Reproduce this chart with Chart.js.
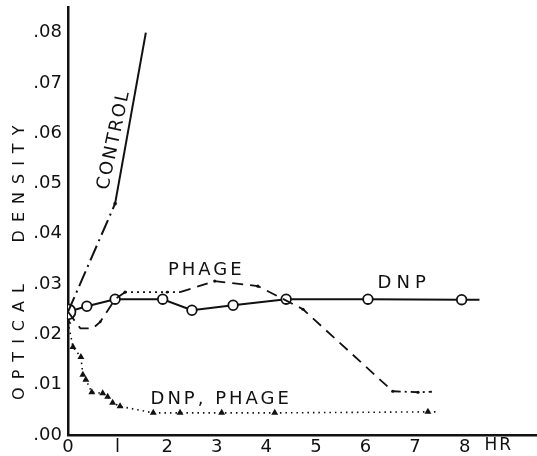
<!DOCTYPE html>
<html lang="en">
<head>
    <script src="https://cdn.jsdelivr.net/npm/chart.js@4/dist/chart.umd.min.js"></script>
    <style>
        html, body { margin: 0; padding: 0; background: #fff; }
        #canvas-container { position: relative; width: 537px; height: 456px; }
    </style>
</head>
<body>

<div id="canvas-container">
    <canvas id="od-chart"></canvas>
</div>

<script>
    // values (x = hours, y = optical density)
    const controlX = [0, 0.95, 1.57];
    const controlY = [0.0245, 0.046, 0.080];

    const dnpX = [0, 0.38, 0.95, 1.91, 2.5, 3.33, 4.4, 6.05, 7.94, 8.3];
    const dnpY = [0.0245, 0.0256, 0.027, 0.027, 0.0248, 0.0258, 0.027, 0.027, 0.0269, 0.0269];

    const phageX = [0, 0.25, 0.5, 0.65, 0.95, 1.15, 2.0, 2.26, 2.96, 3.83, 4.27, 4.74, 6.55, 7.06, 7.34];
    const phageY = [0.0245, 0.0212, 0.0212, 0.0225, 0.027, 0.0284, 0.0284, 0.0284, 0.0306, 0.0296, 0.0274, 0.025, 0.0087, 0.0085, 0.0086];

    const dnpPhageX = [0, 0.1, 0.26, 0.3, 0.36, 0.48, 0.7, 0.8, 0.9, 1.05, 1.72, 2.26, 3.1, 4.17, 7.26, 7.46];
    const dnpPhageY = [0.0225, 0.0175, 0.0155, 0.012, 0.011, 0.0085, 0.0083, 0.0076, 0.0064, 0.0057, 0.0044, 0.0044, 0.0044, 0.0044, 0.0046, 0.0046];

    const yTicks = [0, 0.01, 0.02, 0.03, 0.04, 0.05, 0.06, 0.07, 0.08];
    const xTicks = [0, 1, 2, 3, 4, 5, 6, 7, 8];

    const pts = (xs, ys) => xs.map((x, i) => ({x: x, y: ys[i]}));

    const FONT = "'DejaVu Sans', sans-serif";

    // curve labels and axis title drawn on the canvas
    const labelsPlugin = {
        id: "curveLabels",
        afterDatasetsDraw(chart) {
            const ctx = chart.ctx;
            const xs = chart.scales.x, ys = chart.scales.y;
            ctx.save();
            ctx.fillStyle = "#111";
            ctx.textAlign = "center";
            ctx.textBaseline = "middle";

            function put(text, x, y, angle, size, spacing) {
                ctx.save();
                ctx.font = size + "px " + FONT;
                ctx.letterSpacing = spacing + "px";
                ctx.translate(xs.getPixelForValue(x) + spacing / 2, ys.getPixelForValue(y));
                ctx.rotate(angle || 0);
                ctx.fillText(text, 0, 0);
                ctx.restore();
            }
            put("CONTROL", 0.91, 0.0587, -78 * Math.PI / 180, 18, 2);
            put("PHAGE", 2.76, 0.0328, 0, 18, 3);
            put("DNP", 6.73, 0.0302, 0, 18, 5);
            put("DNP, PHAGE", 3.06, 0.0070, 0, 18, 3);
            put("HR", 8.67, -0.0021, 0, 17, 2);

            // y axis title
            ctx.font = "16px " + FONT;
            ctx.letterSpacing = "8px";
            [["OPTICAL", 334], ["DENSITY", 176]].forEach(([word, cy]) => {
                ctx.save();
                ctx.translate(20, cy + 4);
                ctx.rotate(-Math.PI / 2);
                ctx.fillText(word, 0, 0);
                ctx.restore();
            });
            ctx.restore();
        }
    };

    new Chart(document.getElementById("od-chart"), {
        type: "scatter",
        data: {
            datasets: [
                {
                    label: "CONTROL",
                    data: pts(controlX, controlY),
                    showLine: true,
                    borderColor: "#111",
                    borderWidth: 2,
                    pointRadius: [0, 1.8, 0],
                    pointBackgroundColor: "#111",
                    pointBorderWidth: 0,
                    segment: {
                        borderDash: c => c.p0DataIndex === 0 ? [16, 5, 2, 5] : undefined
                    }
                },
                {
                    label: "PHAGE",
                    data: pts(phageX, phageY),
                    showLine: true,
                    borderColor: "#111",
                    borderWidth: 1.8,
                    borderDash: [11, 7],
                    pointRadius: [0, 0, 0, 1.4, 0, 1.6, 1.4, 0, 1.6, 1.6, 0, 1.6, 1.6, 1.6, 0],
                    pointBackgroundColor: "#111",
                    pointBorderWidth: 0,
                    segment: {
                        borderDash: c => (c.p0DataIndex >= 5 && c.p0DataIndex <= 6) ? [2, 4] :
                            (c.p0DataIndex >= 12 ? [8, 4, 2, 4] : undefined)
                    }
                },
                {
                    label: "DNP",
                    data: pts(dnpX, dnpY),
                    showLine: true,
                    borderColor: "#111",
                    borderWidth: 2,
                    pointStyle: "circle",
                    pointRadius: [7.5, 4.8, 4.8, 4.8, 4.8, 4.8, 4.8, 4.8, 4.8, 0],
                    pointBackgroundColor: "#fff",
                    pointBorderColor: "#111",
                    pointBorderWidth: 1.8
                },
                {
                    label: "DNP centres",
                    data: pts(dnpX.slice(1, 9), dnpY.slice(1, 9)),
                    showLine: false,
                    pointRadius: 1.2,
                    pointBackgroundColor: "#111",
                    pointBorderWidth: 0
                },
                {
                    label: "DNP, PHAGE",
                    data: pts(dnpPhageX, dnpPhageY),
                    showLine: true,
                    borderColor: "#111",
                    borderWidth: 1.6,
                    borderDash: [1.5, 4],
                    pointStyle: "triangle",
                    pointRadius: [4, 4, 4, 4, 4, 4, 4, 4, 4, 4, 4, 4, 4, 4, 4, 0],
                    pointBackgroundColor: "#111",
                    pointBorderColor: "#111",
                    pointBorderWidth: 0
                }
            ]
        },
        options: {
            responsive: true,
            maintainAspectRatio: false,
            animation: false,
            layout: { autoPadding: false, padding: { top: 7, right: 0, left: 0, bottom: 0 } },
            plugins: {
                legend: { display: false },
                tooltip: { enabled: false }
            },
            scales: {
                x: {
                    type: "linear",
                    min: 0,
                    max: 9.46,
                    afterFit: s => { s.height = 21; s.paddingLeft = 0; s.paddingRight = 0; },
                    afterBuildTicks: s => { s.ticks = xTicks.map(v => ({value: v})); },
                    grid: { display: false, drawTicks: false },
                    border: { color: "#111", width: 2.5 },
                    ticks: {
                        color: "#111",
                        padding: 2,
                        maxRotation: 0,
                        font: { family: FONT, size: 18 },
                        callback: v => v === 1 ? "l" : String(v)
                    }
                },
                y: {
                    type: "linear",
                    min: 0,
                    max: 0.0851,
                    afterFit: s => { s.width = 68; s.paddingTop = 0; s.paddingBottom = 0; },
                    afterBuildTicks: s => { s.ticks = yTicks.map(v => ({value: v})); },
                    grid: { display: false, drawOnChartArea: false, drawTicks: true, tickLength: 5, tickColor: "#111", tickWidth: 1.5 },
                    border: { color: "#111", width: 2.5 },
                    ticks: {
                        color: "#111",
                        padding: 1,
                        font: { family: FONT, size: 18 },
                        callback: v => "." + Math.round(v * 100).toString().padStart(2, "0")
                    }
                }
            }
        },
        plugins: [labelsPlugin]
    });
</script>

</body>
</html>
